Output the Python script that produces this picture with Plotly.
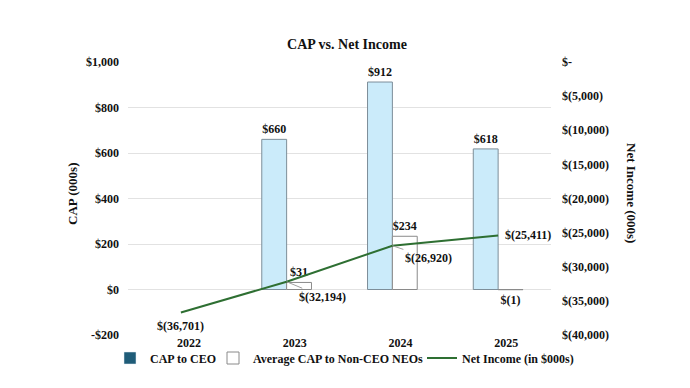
import plotly.graph_objects as go

years = ["2022", "2023", "2024", "2025"]
cap_ceo = [None, 660, 912, 618]
cap_neo = [None, 31, 234, -1]
net_income = [-36701, -32194, -26920, -25411]

ceo_labels = ["", "$660", "$912", "$618"]
neo_labels = ["", "$31", "$234", "$(1)"]
ni_labels = ["$(36,701)", "$(32,194)", "$(26,920)", "$(25,411)"]

left_ticks = [-200, 0, 200, 400, 600, 800, 1000]
left_ticktext = ["-$200", "$0", "$200", "$400", "$600", "$800", "$1,000"]
right_ticks = [0, -5000, -10000, -15000, -20000, -25000, -30000, -35000, -40000]
right_ticktext = ["$-", "$(5,000)", "$(10,000)", "$(15,000)", "$(20,000)",
                  "$(25,000)", "$(30,000)", "$(35,000)", "$(40,000)"]

FONT = "Liberation Serif"
BOLD = dict(family=FONT, size=12, color="#111111", weight="bold")

fig = go.Figure()

fig.add_trace(go.Bar(
    x=years, y=cap_ceo, name="CAP to CEO", offsetgroup="ceo",
    marker=dict(color="#CBEBFA", line=dict(color="#7D8E99", width=1)),
    text=ceo_labels, textposition="outside", textfont=BOLD,
    constraintext="none", cliponaxis=False, showlegend=False,
))
# legend-only swatch for CEO (legend colour differs from bar fill)
fig.add_trace(go.Bar(
    x=[years[0]], y=[None], name="CAP to CEO", offsetgroup="ceo",
    marker=dict(color="#1F5C78"), legend="legend", showlegend=True,
))
fig.add_trace(go.Bar(
    x=years, y=cap_neo, name="Average CAP to Non-CEO NEOs", offsetgroup="neo",
    marker=dict(color="#FFFFFF", line=dict(color="#8A8A8A", width=1)),
    text=neo_labels, textposition="outside", textfont=BOLD,
    constraintext="none", cliponaxis=False, legend="legend2",
))
fig.add_trace(go.Scatter(
    x=years, y=net_income, yaxis="y2", mode="lines",
    name="Net Income (in $000s)",
    line=dict(color="#2E6F32", width=2), legend="legend3",
))

# category positions by index (year strings would be read as numbers)
idx = list(range(len(years)))
ann = []
ann.append(dict(x=idx[0], y=net_income[0], xref="x", yref="y2", text=ni_labels[0],
                showarrow=False, yshift=-14, font=BOLD))
ann.append(dict(x=idx[1], y=net_income[1], xref="x", yref="y2", text=ni_labels[1],
                showarrow=True, arrowhead=0, arrowwidth=1, arrowcolor="#A0A0A0",
                ax=36, ay=15, font=BOLD))
ann.append(dict(x=idx[2], y=net_income[2], xref="x", yref="y2", text=ni_labels[2],
                showarrow=True, arrowhead=0, arrowwidth=1, arrowcolor="#A0A0A0",
                ax=36, ay=12, font=BOLD))
ann.append(dict(x=idx[3], y=net_income[3], xref="x", yref="y2", text=ni_labels[3],
                showarrow=False, xshift=30, yshift=0, font=BOLD))
ann.append(dict(x=73, y=194, xref="paper", yref="paper", text="CAP (000s)",
                showarrow=False, textangle=-90, xanchor="center", yanchor="middle",
                font=dict(BOLD, size=13)))
ann.append(dict(x=632, y=193, xref="paper", yref="paper", text="Net Income (000s)",
                showarrow=False, textangle=90, xanchor="center", yanchor="middle",
                font=dict(BOLD, size=13)))

# convert pixel-based paper annotations
W, H = 690, 388
L, R, T, B = 128, 139, 62, 53
pw, ph = W - L - R, H - T - B
for a in ann:
    if a.get("xref") == "paper":
        a["x"] = (a["x"] - L) / pw
        a["y"] = (H - B - a["y"]) / ph

legend_common = dict(orientation="h", yanchor="middle", y=(335 - 358) / ph, xanchor="left",
                     font=BOLD, bgcolor="rgba(0,0,0,0)", borderwidth=0,
                     itemwidth=30, tracegroupgap=0)

fig.update_layout(
    width=W, height=H,
    margin=dict(l=L, r=R, t=T, b=B),
    paper_bgcolor="white", plot_bgcolor="white",
    title=dict(text="CAP vs. Net Income", x=(347 - L) / pw, xref="paper", xanchor="center",
               y=1 - 44 / H, yanchor="middle",
               font=dict(family=FONT, size=14, color="#111111", weight="bold")),
    barmode="group", bargap=0.53, bargroupgap=0,
    xaxis=dict(type="category", range=[-0.5, 3.5], showgrid=False, zeroline=False,
               showline=False, ticks="", tickfont=BOLD, ticklabelshift=8,
               ticklabelstandoff=-1),
    yaxis=dict(range=[-200, 1000], tickvals=left_ticks, ticktext=left_ticktext,
               showgrid=True, gridcolor="#E2E2E2", gridwidth=1, zeroline=False,
               ticks="", tickfont=BOLD, ticklabelstandoff=8),
    yaxis2=dict(range=[-40000, 0], tickvals=right_ticks, ticktext=right_ticktext,
                overlaying="y", side="right", showgrid=False, zeroline=False,
                ticks="", tickfont=BOLD, ticklabelstandoff=10),
    legend=dict(legend_common, x=(110 - L) / pw),
    legend2=dict(legend_common, x=(213 - L) / pw),
    legend3=dict(legend_common, x=(422 - L) / pw),
    annotations=ann,
    showlegend=True,
)

fig.write_html("out.html")
